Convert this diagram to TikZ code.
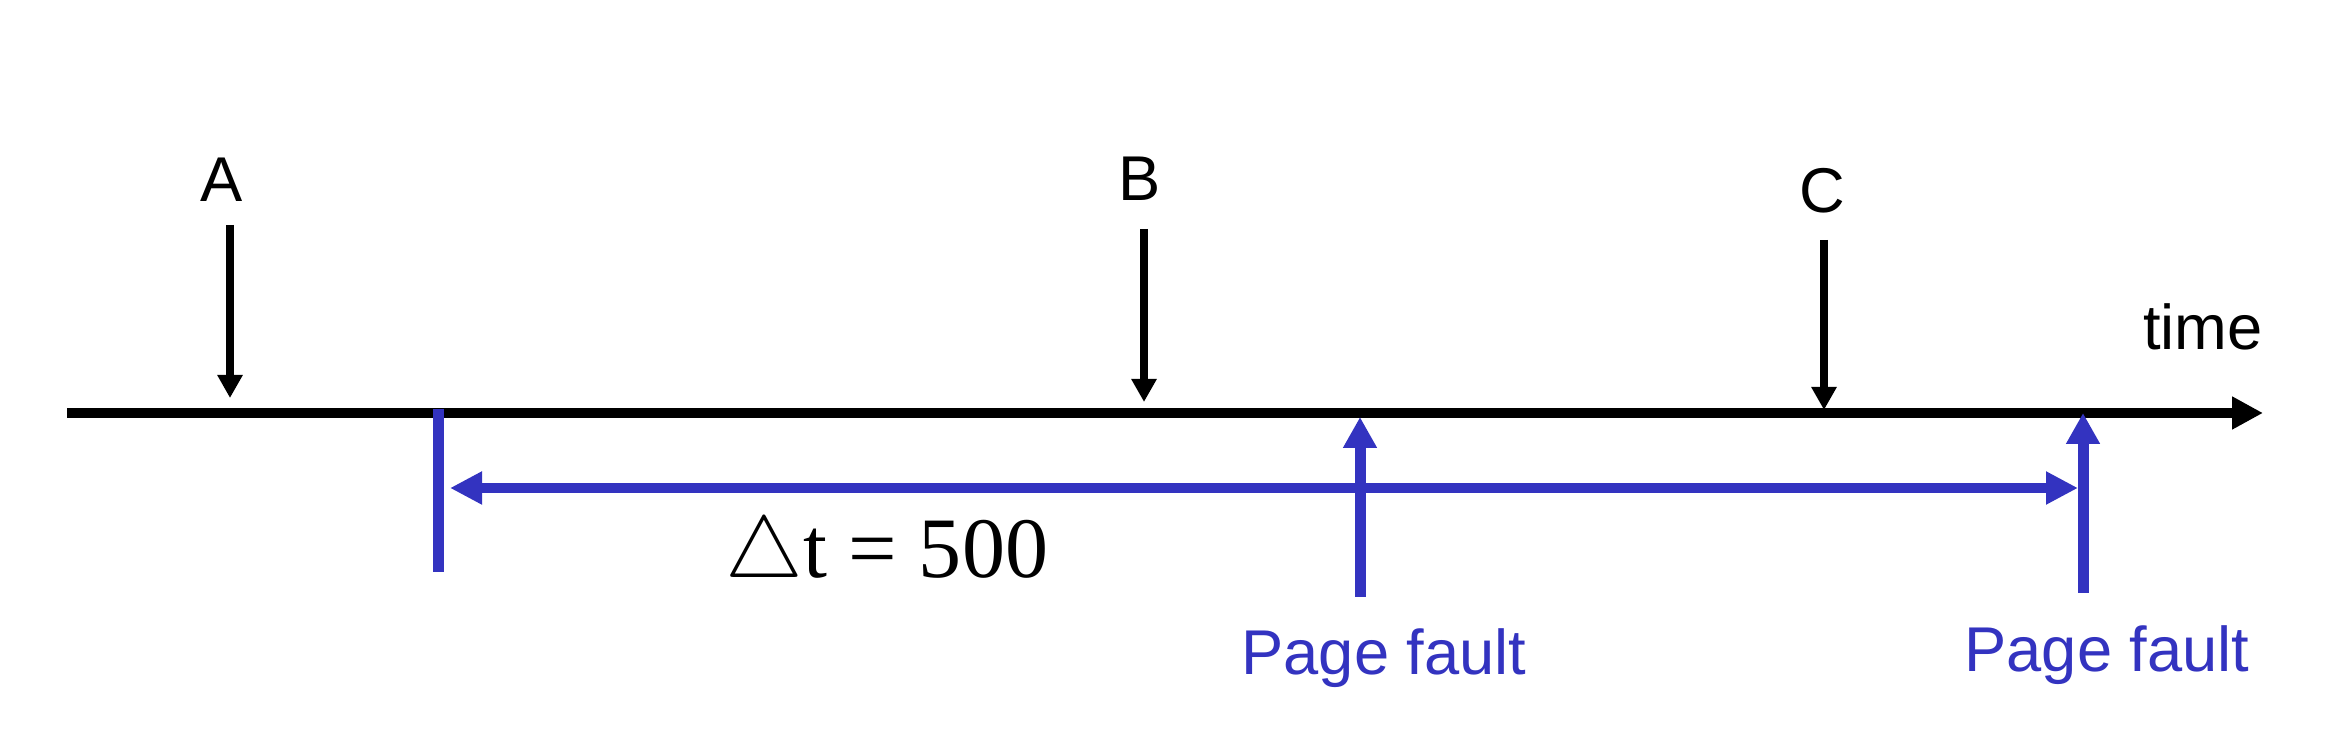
\documentclass[tikz,border=0pt]{standalone}
\usepackage{fontspec}
\setmainfont{Liberation Serif}
\setsansfont{Liberation Sans}
\usetikzlibrary{arrows.meta}
\definecolor{pfblue}{RGB}{51,51,192}

\begin{document}
\begin{tikzpicture}[
  font=\sffamily\fontsize{18}{21}\selectfont,
  lbl/.style={inner sep=0pt,anchor=base},
  timeline/.style={line width=1mm,-{Triangle[length=3.1mm,width=3.1mm]}},
  event/.style={line width=0.8mm,-{Triangle[length=2.3mm,width=2.4mm]}},
  fault/.style={line width=1.1mm,pfblue,-{Triangle[length=3.1mm,width=3.2mm]}},
  window/.style={line width=1mm,pfblue,
    {Triangle[length=3.2mm,width=3.1mm]}-{Triangle[length=3.2mm,width=3.1mm]}},
  bar/.style={line width=1.1mm,pfblue}
]
  \useasboundingbox (0,0) rectangle (23.5,7.42);

  % time axis
  \coordinate (t0) at (0.67,3.29);
  \coordinate (t1) at (22.63,3.29);
  \draw[timeline] (t0) -- (t1);
  \node[lbl] (time) at (22.03,3.92) {time};

  % references A, B, C
  \node[lbl] (A) at (2.22,5.40) {A};
  \node[lbl] (B) at (11.40,5.41) {B};
  \node[lbl] (C) at (18.22,5.29) {C};
  \foreach \n/\x/\top/\tip in {A/2.30/5.17/3.44,B/11.44/5.13/3.40,C/18.24/5.02/3.32} {
    \coordinate (\n top) at (\x,\top);
    \coordinate (\n hit) at (\x,\tip);
    \draw[event] (\n top) -- (\n hit);
  }

  % working-set window
  \coordinate (w0) at (4.385,3.33);
  \coordinate (w1) at (4.385,1.70);
  \draw[bar] (w0) -- (w1);
  \coordinate (d0) at (4.50,2.54);
  \coordinate (d1) at (20.78,2.54);
  \draw[window] (d0) -- (d1);
  \node[lbl,font=\rmfamily\fontsize{24.5}{28}\selectfont] (dt) at (8.87,1.64)
    {$\triangle$t = 500};

  % page faults
  \coordinate (f1low) at (13.60,1.45);
  \coordinate (f1hit) at (13.60,3.25);
  \coordinate (f2low) at (20.83,1.49);
  \coordinate (f2hit) at (20.83,3.29);
  \draw[fault] (f1low) -- (f1hit);
  \draw[fault] (f2low) -- (f2hit);
  \node[lbl,pfblue] (pf1) at (13.84,0.67) {Page fault};
  \node[lbl,pfblue] (pf2) at (21.07,0.70) {Page fault};
\end{tikzpicture}
\end{document}
